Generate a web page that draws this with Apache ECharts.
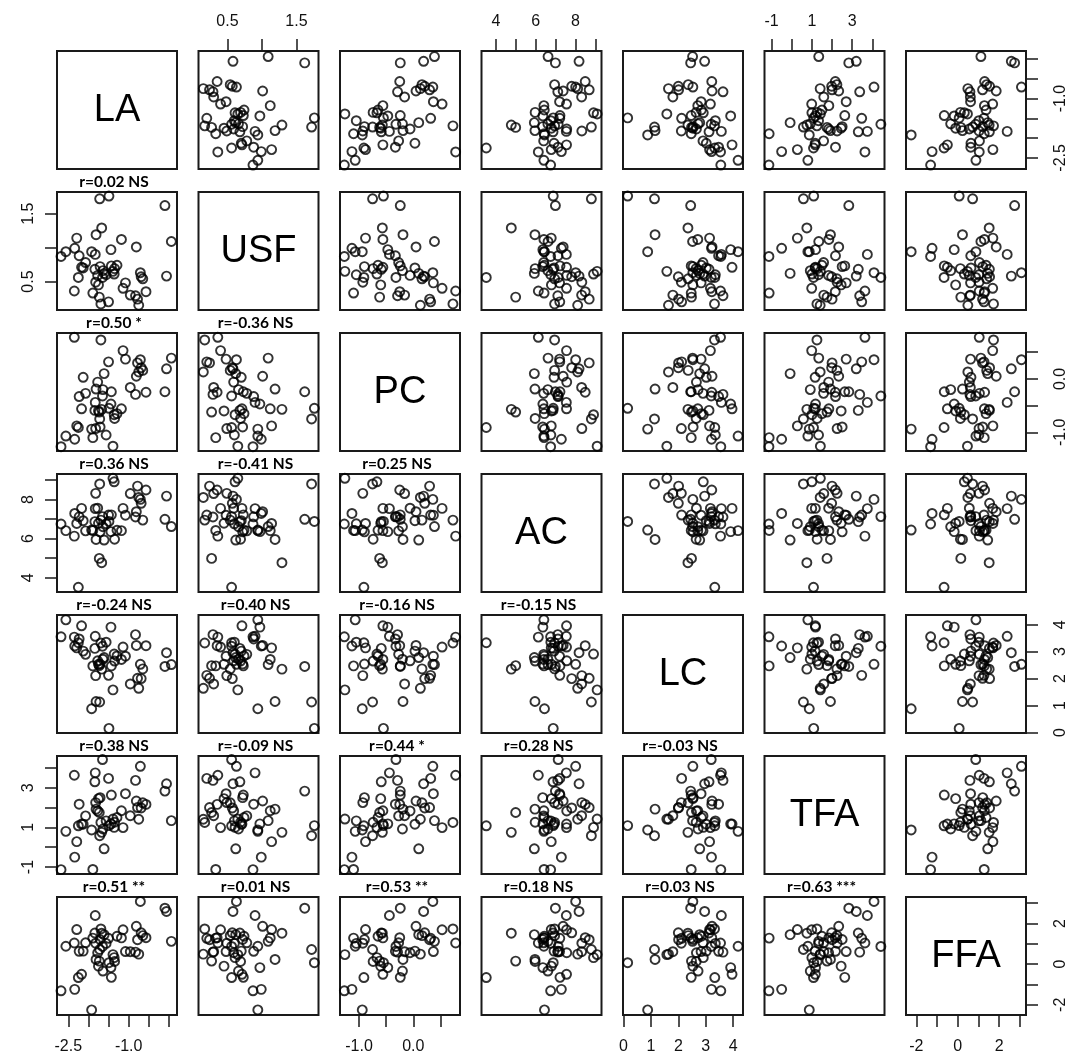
<!DOCTYPE html>
<html>
<head>
<meta charset="utf-8">
<script src="https://cdn.jsdelivr.net/npm/echarts@6/dist/echarts.min.js"></script>
<style>
html,body{margin:0;padding:0;background:#fff;}
#chart{width:1078px;height:1060px;}
</style>
</head>
<body>
<div id="chart"></div>
<script>
// Variable names (diagonal labels)
const varNames = ['LA', 'USF', 'PC', 'AC', 'LC', 'TFA', 'FFA'];

// Observations (one value per sample, same order in every array)
const LA = [-2.68,-2.56,-2.35,-2.34,-2.29,-2.25,-2.23,-2.17,-2.13,-2.07,
            -1.92,-1.89,-1.83,-1.84,-1.82,-1.81,-1.77,-1.75,-1.73,-1.72,
            -1.71,-1.69,-1.67,-1.64,-1.65,-1.61,-1.56,-1.50,-1.49,-1.43,
            -1.44,-1.39,-1.36,-1.35,-1.29,-1.18,-1.14,-1.08,-0.96,-0.83,
            -0.81,-0.78,-0.75,-0.71,-0.69,-0.65,-0.57,-0.10,-0.06,0.06];
const USF = [0.87,0.94,0.36,0.99,1.14,0.56,0.88,0.71,0.70,0.78,
             0.94,0.33,0.90,0.68,0.49,1.19,0.59,0.45,0.27,1.72,
             0.72,0.17,1.29,0.66,0.56,0.62,0.60,0.20,1.76,0.73,
             0.97,0.65,0.61,0.69,0.74,1.12,0.40,0.48,0.30,0.29,
             1.01,0.24,0.15,0.63,0.57,0.54,0.35,1.62,0.58,1.09];
const PC = [-1.27,-1.07,0.78,-1.13,-0.88,-0.91,-0.33,-0.56,0.03,-0.27,
            -0.94,-1.10,-0.44,-0.59,-0.93,-0.19,-0.06,-0.60,-0.62,-0.75,
            -0.90,0.73,-0.57,-0.20,-0.32,0.10,-1.05,0.32,-0.55,-0.24,
            -0.47,-1.26,-0.67,-0.74,-0.65,-0.56,0.53,0.37,-0.16,-0.29,
            0.05,0.30,0.13,0.36,0.21,0.16,-0.25,-0.24,0.19,0.39];
const AC = [6.75,6.41,6.13,7.29,6.78,3.51,7.12,7.55,6.92,6.40,
            6.44,6.42,7.54,6.87,8.32,5.96,7.56,6.79,4.99,8.80,
            6.35,6.95,4.77,6.61,7.13,5.93,6.76,7.21,6.88,7.22,
            6.36,9.09,8.91,5.97,6.43,6.41,7.55,7.20,8.31,7.11,
            7.38,8.69,8.11,8.01,7.81,6.95,8.49,6.99,8.18,6.62];
const LC = [3.55,4.18,3.54,3.21,3.14,3.33,3.47,3.96,3.02,2.90,
            0.88,2.47,3.57,3.12,2.11,1.15,2.66,2.53,2.48,1.13,
            2.54,3.32,2.35,2.72,3.20,2.78,3.35,2.12,0.15,2.47,
            3.91,1.58,2.91,2.65,2.84,2.71,3.17,2.83,1.80,3.63,
            3.23,2.01,1.64,2.53,2.00,2.36,3.22,2.45,2.96,2.52];
const TFA = [-1.13,0.80,3.63,-0.50,0.28,1.08,2.17,1.17,1.16,1.58,
             0.87,-1.12,3.75,3.30,2.25,1.92,1.83,2.45,1.75,0.58,
             2.50,1.25,0.75,0.92,4.42,-0.08,1.33,3.47,1.09,2.63,
             1.18,1.42,1.00,1.26,1.50,1.84,0.99,2.70,1.59,3.37,
             2.33,2.00,1.41,4.08,1.98,2.24,2.16,2.83,3.20,1.34];
const FFA = [-1.31,0.88,1.04,-1.24,1.70,-0.66,0.63,-0.50,0.64,1.05,
             -2.25,1.28,2.39,1.53,1.03,0.23,0.56,-0.10,0.15,0.72,
             1.21,1.73,1.52,-0.34,0.87,1.45,1.02,1.27,0.07,-0.65,
             -0.17,0.47,0.32,0.13,1.37,1.29,1.69,0.62,0.61,0.59,
             1.86,1.20,0.49,3.08,1.54,1.40,1.30,2.75,2.59,1.12];

// Axis tick positions and the tick labels that are printed
const tickValues = [
  [-2.5,-2,-1.5,-1,-0.5,0],
  [0.5,1,1.5],
  [-1,-0.5,0,0.5],
  [4,5,6,7,8,9],
  [0,1,2,3,4],
  [-1,0,1,2,3,4],
  [-2,-1,0,1,2,3]
];
const tickLabels = [
  [-2.5,-1.0],
  [0.5,1.5],
  [-1.0,0.0],
  [4,6,8],
  [0,1,2,3,4],
  [-1,1,3],
  [-2,0,2]
];
const labelDecimals = [1,1,1,0,0,0,0];

// Correlation annotations above the lower-triangle panels: [row, col, text]
const corrText = [
  [1,0,'r=0.02 NS'],
  [2,0,'r=0.50 *'],[2,1,'r=-0.36 NS'],
  [3,0,'r=0.36 NS'],[3,1,'r=-0.41 NS'],[3,2,'r=0.25 NS'],
  [4,0,'r=-0.24 NS'],[4,1,'r=0.40 NS'],[4,2,'r=-0.16 NS'],[4,3,'r=-0.15 NS'],
  [5,0,'r=0.38 NS'],[5,1,'r=-0.09 NS'],[5,2,'r=0.44 *'],[5,3,'r=0.28 NS'],[5,4,'r=-0.03 NS'],
  [6,0,'r=0.51 **'],[6,1,'r=0.01 NS'],[6,2,'r=0.53 **'],[6,3,'r=0.18 NS'],[6,4,'r=0.03 NS'],[6,5,'r=0.63 ***']
];

const cols = [LA, USF, PC, AC, LC, TFA, FFA];
// Plot range of each variable (R pairs: data range + 4%)
const axisRange = [[-2.78,0.20],[0.08,1.82],[-1.35,0.86],[3.27,9.31],[-0.02,4.36],[-1.35,4.60],[-2.5,3.3]];

// Layout
const N = 7;
const LEFT0 = 57, TOP0 = 51, PITCH_X = 141.5, PITCH_Y = 141, PW = 120, PH = 118;

const chart = echarts.init(document.getElementById('chart'), null, {renderer: 'canvas'});

const grids = [], xAxes = [], yAxes = [], series = [], graphics = [];
const FONT = 'Liberation Sans, Arial, sans-serif';
const AX_COLOR = '#1a1a1a';

function fmt(k) {
  return function (v) {
    return Number(v).toFixed(labelDecimals[k]);
  };
}

let gi = 0;
for (let i = 0; i < N; i++) {
  for (let j = 0; j < N; j++) {
    const left = LEFT0 + PITCH_X * j;
    const top = TOP0 + PITCH_Y * i;
    grids.push({
      left: left, top: top, width: PW, height: PH,
      show: true, borderColor: AX_COLOR, borderWidth: 2,
      backgroundColor: 'transparent', containLabel: false
    });
    const showTop = (i === 0 && j % 2 === 1);
    const showBottom = (i === N - 1 && j % 2 === 0);
    const showLeft = (j === 0 && i % 2 === 1);
    const showRight = (j === N - 1 && i % 2 === 0);
    const xShow = showTop || showBottom;
    const yShow = showLeft || showRight;
    xAxes.push({
      gridIndex: gi, type: 'value',
      position: showTop ? 'top' : 'bottom',
      min: axisRange[j][0], max: axisRange[j][1],
      axisLine: {show: false, onZero: false},
      splitLine: {show: false},
      axisTick: {show: xShow, length: 12, inside: false,
        customValues: tickValues[j],
        lineStyle: {color: AX_COLOR, width: 1.5}},
      axisLabel: {show: xShow, customValues: tickLabels[j], formatter: fmt(j),
        color: '#111', fontSize: 16, fontFamily: FONT, margin: showTop ? 21 : 24},
    });
    yAxes.push({
      gridIndex: gi, type: 'value',
      position: showRight ? 'right' : 'left',
      min: axisRange[i][0], max: axisRange[i][1],
      axisLine: {show: false, onZero: false},
      splitLine: {show: false},
      axisTick: {show: yShow, length: 12, inside: false,
        customValues: tickValues[i],
        lineStyle: {color: AX_COLOR, width: 1.5}},
      axisLabel: {show: yShow, customValues: tickLabels[i], formatter: fmt(i),
        rotate: 90, color: '#111', fontSize: 16, fontFamily: FONT, margin: showRight ? 27 : 20},
    });
    if (i !== j) {
      const xs = cols[j], ys = cols[i];
      series.push({
        type: 'scatter', xAxisIndex: gi, yAxisIndex: gi,
        symbol: 'circle', symbolSize: 9,
        itemStyle: {color: 'rgba(0,0,0,0)', borderColor: '#000', borderWidth: 1.9},
        emphasis: {disabled: true},
        silent: true,
        data: xs.map((v, k) => [v, ys[k]])
      });
    } else {
      graphics.push({
        type: 'text',
        x: left + PW / 2, y: top + PH / 2 + 1,
        style: {
          text: varNames[i], fill: '#000',
          font: '38px ' + FONT,
          textAlign: 'center', textVerticalAlign: 'middle',
          align: 'center', verticalAlign: 'middle'
        }
      });
    }
    gi++;
  }
}

corrText.forEach(function (c) {
  const r = c[0], col = c[1];
  const cx = LEFT0 + PITCH_X * col + PW / 2 - 3;
  const cy = TOP0 + PITCH_Y * r - 10;
  graphics.push({
    type: 'text', x: cx, y: cy,
    style: {
      text: c[2], fill: '#000',
      font: 'bold 15.5px Lato, "Open Sans", sans-serif',
      textAlign: 'center', textVerticalAlign: 'middle',
      align: 'center', verticalAlign: 'middle'
    }
  });
});

chart.setOption({
  animation: false,
  backgroundColor: '#fff',
  grid: grids,
  xAxis: xAxes,
  yAxis: yAxes,
  series: series,
  graphic: graphics
});
</script>
</body>
</html>
